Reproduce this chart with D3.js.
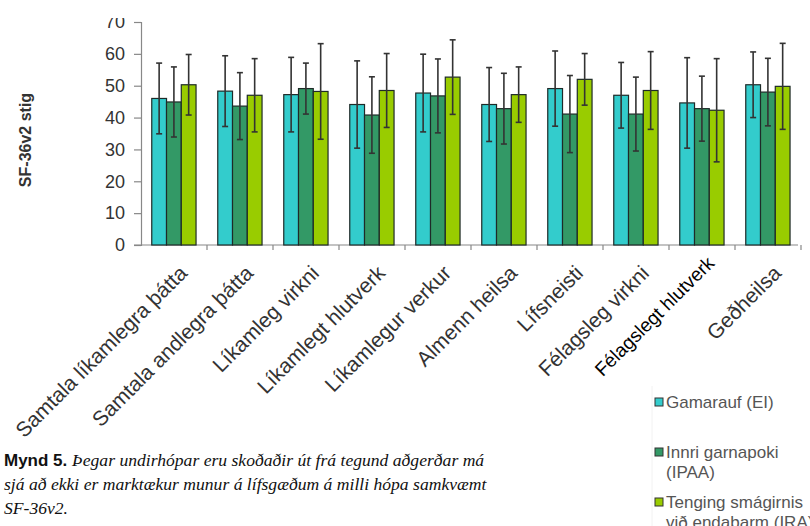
<!DOCTYPE html>
<html>
<head>
<meta charset="utf-8">
<script src="https://cdn.jsdelivr.net/npm/d3@7"></script>
<style>
  body { margin: 0; background: #fff; }
  svg { display: block; }
  .tick-label { font-family: "Liberation Sans", Arial, sans-serif; font-size: 18px; fill: #333; }
  .cat-label { font-family: "Liberation Sans", Arial, sans-serif; font-size: 21px; fill: #333; }
  .legend-text { font-family: "Liberation Sans", Arial, sans-serif; font-size: 17px; fill: #555; }
  .caption-bold { font-family: "Liberation Sans", Arial, sans-serif; font-size: 17px; font-weight: bold; fill: #111; }
  .caption-it { font-family: "Liberation Serif", "DejaVu Serif", serif; font-style: italic; font-size: 17.6px; fill: #111; }
</style>
</head>
<body>
<svg width="810" height="526"></svg>
<script>
categories = ['Samtala líkamlegra þátta', 'Samtala andlegra þátta', 'Líkamleg virkni',
  'Líkamlegt hlutverk', 'Líkamlegur verkur', 'Almenn heilsa', 'Lífsneisti',
  'Félagsleg virkni', 'Félagslegt hlutverk', 'Geðheilsa']
seriesNames = ['Gamarauf (EI)', 'Innri garnapoki (IPAA)', 'Tenging smágirnis við endaþarm (IRA)']
legendLines = [['Gamarauf (EI)'], ['Innri garnapoki', '(IPAA)'], ['Tenging smágirnis', 'við endaþarm (IRA)']]

eiMean   = [46.0, 48.3, 47.2, 44.1, 47.7, 44.1, 49.1, 47.0, 44.6, 50.3]
eiSd     = [11.1, 11.1, 11.7, 13.7, 12.2, 11.6, 11.8, 10.3, 14.2, 10.3]
ipaaMean = [44.9, 43.6, 49.1, 40.8, 46.8, 42.8, 41.1, 41.1, 42.8, 48.0]
ipaaSd   = [11.0, 10.5,  8.0, 12.0, 11.6, 11.1, 12.1, 11.6, 10.2, 10.6]
iraMean  = [50.3, 47.0, 48.2, 48.5, 52.7, 47.2, 52.0, 48.5, 42.3, 49.8]
iraSd    = [ 9.5, 11.5, 15.0, 11.6, 11.7,  8.7,  8.1, 12.2, 16.2, 13.5]

yTicks = [0, 10, 20, 30, 40, 50, 60, 70]

captionBold = 'Mynd 5.'
captionLines = ['Þegar undirhópar eru skoðaðir út frá tegund aðgerðar má',
  'sjá að ekki er marktækur munur á lífsgæðum á milli hópa samkvæmt',
  'SF-36v2.']

COLORS = ['#33cccc', '#339966', '#99cc00']
X_LEFT = 141
X_RIGHT = 801
Y_ZERO = 245
Y_TOP = 22

means = [eiMean, ipaaMean, iraMean]
sds = [eiSd, ipaaSd, iraSd]
rows = categories.map(function (c, i) {
  return { cat: c, vals: seriesNames.map(function (s, k) {
    return { k: k, mean: means[k][i], sd: sds[k][i] };
  }) };
});

svg = d3.select('svg')

svg.append('defs').append('clipPath').attr('id', 'topclip')
  .append('rect').attr('x', 0).attr('y', 18).attr('width', 810).attr('height', 508)

chart = svg.append('g').attr('clip-path', 'url(#topclip)')

x0 = d3.scaleBand().domain(categories).range([X_LEFT, X_RIGHT])
bw = x0.bandwidth()
x1 = d3.scaleBand().domain(d3.range(3)).range([bw * 0.163, bw * 0.834])
y = d3.scaleLinear().domain([0, 70]).range([Y_ZERO, Y_TOP])

// y axis
yAxis = chart.append('g').attr('transform', 'translate(' + X_LEFT + ',0)')
  .call(d3.axisLeft(y).tickValues(yTicks).tickSize(7).tickPadding(9))
yAxis.select('.domain').attr('stroke', '#888').attr('stroke-width', 1.2)
yAxis.selectAll('.tick line').attr('stroke', '#888').attr('stroke-width', 1.2)
yAxis.selectAll('.tick text').attr('class', 'tick-label').attr('font-family', null).attr('font-size', null).attr('fill', null)

// x axis with ticks between categories
xAxis = chart.append('g').attr('transform', 'translate(0,' + Y_ZERO + ')')
xAxis.append('line').attr('x1', X_LEFT - 7).attr('x2', X_RIGHT - 3)
  .attr('stroke', '#888').attr('stroke-width', 1.2)
xAxis.selectAll('.xt').data(categories).enter().append('line')
  .attr('x1', function (d) { return x0(d) + bw; })
  .attr('x2', function (d) { return x0(d) + bw; })
  .attr('y1', 0).attr('y2', 5)
  .attr('stroke', '#888').attr('stroke-width', 1.2)

// bars
g = chart.selectAll('.grp').data(rows).enter().append('g')
  .attr('transform', function (d) { return 'translate(' + x0(d.cat) + ',0)'; })

g.selectAll('rect').data(function (d) { return d.vals; }).enter().append('rect')
  .attr('x', function (d) { return x1(d.k); })
  .attr('y', function (d) { return y(d.mean); })
  .attr('width', x1.bandwidth())
  .attr('height', function (d) { return Y_ZERO - y(d.mean); })
  .attr('fill', function (d) { return COLORS[d.k]; })
  .attr('stroke', '#1e2a28').attr('stroke-width', 1.2)

// error bars
eb = g.selectAll('.eb').data(function (d) { return d.vals; }).enter().append('g')
  .attr('stroke', '#333').attr('stroke-width', 1.6)
eb.append('line')
  .attr('x1', function (d) { return x1(d.k) + x1.bandwidth() / 2; })
  .attr('x2', function (d) { return x1(d.k) + x1.bandwidth() / 2; })
  .attr('y1', function (d) { return y(d.mean + d.sd); })
  .attr('y2', function (d) { return y(d.mean - d.sd); })
;[1, -1].forEach(function (s) {
  eb.append('line')
    .attr('x1', function (d) { return x1(d.k) + x1.bandwidth() / 2 - 3; })
    .attr('x2', function (d) { return x1(d.k) + x1.bandwidth() / 2 + 3; })
    .attr('y1', function (d) { return y(d.mean + s * d.sd); })
    .attr('y2', function (d) { return y(d.mean + s * d.sd); })
})

// category labels
svg.selectAll('.cat-label').data(categories).enter().append('text')
  .attr('class', 'cat-label')
  .attr('text-anchor', 'end')
  .attr('transform', function (d, i) {
    var cx = x0(d) + bw / 2 + 4;
    var cy = i == 8 ? 255 : 264;
    return 'translate(' + cx + ',' + cy + ') rotate(-45)';
  })
  .attr('dy', '0.7em')
  .style('fill', function (d, i) { return i == 8 ? '#000' : null; })
  .style('font-size', function (d, i) { return i == 8 ? '19px' : null; })
  .text(function (d) { return d; })

// y label
svg.append('text')
  .attr('transform', 'translate(31,140) rotate(-90)')
  .attr('text-anchor', 'middle')
  .style('font-family', '"Liberation Sans", Arial, sans-serif')
  .style('font-size', '16px').style('font-weight', 'bold').style('fill', '#333')
  .text('SF-36v2 stig')

// legend
svg.append('line').attr('x1', 652).attr('x2', 652).attr('y1', 386).attr('y2', 526)
  .attr('stroke', '#f2f2f2')
LEG_Y = [402, 452, 502]
leg = svg.selectAll('.leg').data(legendLines).enter().append('g')
  .attr('transform', function (d, i) { return 'translate(655,' + LEG_Y[i] + ')'; })
leg.append('rect').attr('x', 0).attr('y', -4).attr('width', 8).attr('height', 8)
  .attr('fill', function (d, i) { return COLORS[i]; })
  .attr('stroke', '#333').attr('stroke-width', 1)
leg.each(function (lines) {
  d3.select(this).selectAll('text').data(lines).enter().append('text')
    .attr('class', 'legend-text')
    .attr('x', 11)
    .attr('y', function (d, j) { return j * 20; })
    .attr('dy', '0.36em')
    .text(function (d) { return d; })
})

// caption
cap = svg.append('text').attr('x', 4).attr('y', 466)
cap.append('tspan').attr('class', 'caption-bold').text(captionBold + ' ')
cap.append('tspan').attr('class', 'caption-it').text(captionLines[0])
svg.selectAll('.capl').data(captionLines.slice(1)).enter().append('text')
  .attr('class', 'caption-it')
  .attr('x', 4)
  .attr('y', function (d, i) { return 490 + i * 24; })
  .text(function (d) { return d; })
</script>
</body>
</html>
